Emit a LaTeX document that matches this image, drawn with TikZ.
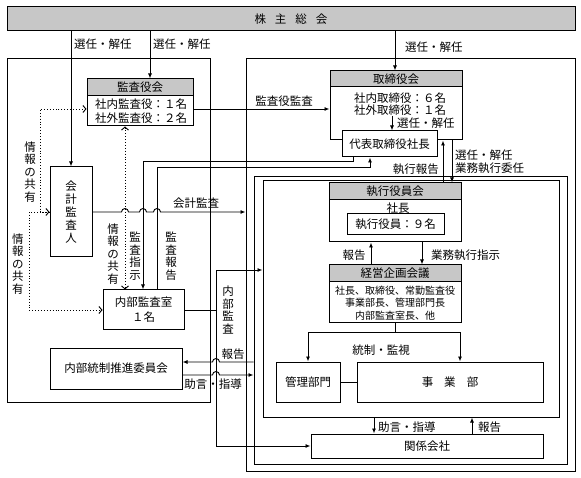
\documentclass[tikz,border=0pt]{standalone}
\usepackage{fontspec}
\setmainfont{Noto Sans CJK JP}
\usepackage{tikz}
\usetikzlibrary{arrows.meta}
\definecolor{hdgray}{gray}{0.78}
\newcommand{\vlabfont}{\fontsize{11.5}{12.5}\selectfont}
\tikzset{
  frame/.style={draw, line width=1pt, inner sep=0pt},
  box/.style={draw, line width=1pt, fill=white, inner sep=0pt, align=center},
  head/.style={box, fill=hdgray},
  lbl/.style={inner sep=0pt, align=center},
  vlb/.style={lbl, font=\vlabfont},
  line/.style={line width=0.9pt},
  arr/.style={line width=0.9pt, -{Latex[length=5pt,width=4pt]}},
  info/.style={dotted, line width=0.9pt, {Straight Barb[length=3pt,width=7pt]}-{Straight Barb[length=3pt,width=7pt]}},
  infoend/.style={dotted, line width=0.9pt, -{Straight Barb[length=3pt,width=7pt]}},
}

\begin{document}
\begin{tikzpicture}[x=1pt, y=-1pt, font=\fontsize{11.5}{13}\selectfont]
\useasboundingbox (0,0) rectangle (581,478);

% frames
\node[frame, minimum width=203, minimum height=343] (lft) at (108.5,230.5) {};
\node[frame, minimum width=329, minimum height=412] (rgt) at (410.5,265) {};
\node[frame, minimum width=313, minimum height=287] (mid) at (410.5,320.5) {};
\node[frame, minimum width=296, minimum height=236] (exe) at (411,299) {};

% boxes
\node[head, minimum width=568, minimum height=24] (gm) at (291,19) {株\hspace{9pt}主\hspace{9pt}総\hspace{9pt}会};

\node[box, minimum width=106, minimum height=47] (ka) at (140,102.5) {};
\node[head, minimum width=106, minimum height=17, anchor=north] (kah) at (ka.north) {監査役会};
\node[lbl, font=\fontsize{11.5}{14}\selectfont] (kat) at (141,111) {社内監査役：１名\\社外監査役：２名};

\node[box, minimum width=132, minimum height=69] (tb) at (396,105.5) {};
\node[head, minimum width=132, minimum height=16, anchor=north] (tbh) at (tb.north) {取締役会};
\node[lbl, font=\fontsize{11.5}{12}\selectfont] (tbt) at (400,104) {社内取締役：６名\\社外取締役：１名};
\node[lbl, anchor=west] (tbs) at (397,123) {選任・解任};
\coordinate (tsel) at (392,116);
\node[box, minimum width=95, minimum height=26] (pr) at (389.5,144) {代表取締役社長};

\node[box, minimum width=42, minimum height=90, font=\fontsize{11.5}{13}\selectfont] (ca) at (71,212) {会\\計\\監\\査\\人};
\node[box, minimum width=81, minimum height=40, font=\fontsize{11.5}{15}\selectfont] (ia) at (143.5,310) {内部監査室\\１名};
\node[box, minimum width=132, minimum height=41] (ic) at (116,368.5) {内部統制推進委員会};

\node[box, minimum width=132, minimum height=59] (eo) at (395,212.5) {};
\node[head, minimum width=132, minimum height=17, anchor=north] (eoh) at (eo.north) {執行役員会};
\node[lbl] (eot) at (398,208) {社長};
\node[box, minimum width=97, minimum height=21] (eon) at (395.5,224.5) {執行役員：９名};

\node[box, minimum width=132, minimum height=58] (mp) at (395,294) {};
\node[head, minimum width=132, minimum height=17, anchor=north] (mph) at (mp.north) {経営企画会議};
\node[lbl, font=\fontsize{10}{12.5}\selectfont] (mpt) at (395,303) {社長、取締役、常勤監査役\\事業部長、管理部門長\\内部監査室長、他};

\node[box, minimum width=64, minimum height=40] (ad) at (308,382) {管理部門};
\node[box, minimum width=186, minimum height=40] (bd) at (450,382) {事\hspace{11pt}業\hspace{11pt}部};
\node[box, minimum width=232, minimum height=24] (af) at (427,446) {関係会社};

% connectors
\draw[arr] (gm.south -| ca.north) -- (ca.north);
\draw[arr] (gm.south -| 150,0) -- (kah.north -| 150,0);
\draw[arr] (gm.south -| 395,0) -- (tbh.north -| 395,0);
\draw[arr] (ka.east |- 0,109) -- (tb.west |- 0,109);
\draw[arr] (tsel) -- (tsel |- pr.north);

\draw[arr] (pr.south -| 353,0) -- (353,161) -| (ia.north -| 143,0);
\draw[arr] (ia.north -| 157,0) |- (370,167) -- (pr.south -| 370,0);

\draw[arr] (ca.east) -- (121.5,212) arc[start angle=180, end angle=0, radius=3.5pt]
  -- (139.5,212) arc[start angle=180, end angle=0, radius=3.5pt]
  -- (153.5,212) arc[start angle=180, end angle=0, radius=3.5pt]
  -- (rgt.west |- ca.east);

\draw[info] (ka.west |- 0,109) -| (40,212) -- (ca.west);
\draw[infoend] (ca.west) -- (29,212) |- (ia.west);
\draw[info] (ka.south -| 125,0) -- (ia.north -| 125,0);

\coordinate (ij) at (216,310);
\draw[line] (ia.east) -- (ij);
\draw[arr] (ij) |- (exe.west |- 0,270);
\draw[arr] (ij) |- (af.west);

\draw[arr] (mid.west |- 0,362) -- (219.5,362) arc[start angle=0, end angle=180, radius=3.5pt] -- (ic.east |- 0,362);
\draw[arr] (ic.east |- 0,375) -- (212.5,375) arc[start angle=180, end angle=0, radius=3.5pt] -- (mid.west |- 0,375);

\draw[arr] (eo.north -| 443,0) -- (tb.south -| 443,0);
\draw[arr] (tb.south -| 452,0) -- (eo.north -| 452,0);

\draw[arr] (mp.north -| 371,0) -- (eo.south -| 371,0);
\draw[arr] (eo.south -| 422,0) -- (mp.north -| 422,0);

\coordinate (cm) at (395,332);
\draw[line] (mp.south) -- (cm);
\draw[arr] (cm) -| (ad.north);
\draw[arr] (cm) -| (bd.north -| 460,0);
\draw[line] (ad) -- (bd);

\draw[arr] (exe.south -| 374,0) -- (af.north -| 374,0);
\draw[arr] (af.north -| 472,0) -- (exe.south -| 472,0);

% labels
\node[lbl, anchor=west] (l1) at (74,44) {選任・解任};
\node[lbl, anchor=west] (l2) at (153,44) {選任・解任};
\node[lbl, anchor=west] (l3) at (405,47) {選任・解任};
\node[lbl] (l4) at (284,101) {監査役監査};
\node[lbl] (l5) at (196,203) {会計監査};
\node[vlb] (l6) at (30,172) {情\\報\\の\\共\\有};
\node[vlb] (l7) at (18,264) {情\\報\\の\\共\\有};
\node[vlb] (l8) at (113,254) {情\\報\\の\\共\\有};
\node[vlb] (l9) at (135,256) {監\\査\\指\\示};
\node[vlb] (l10) at (171,256) {監\\査\\報\\告};
\node[vlb] (l11) at (228,310) {内\\部\\監\\査};
\node[lbl] (l12) at (233,354) {報告};
\node[lbl] (l13) at (213,384) {助言・指導};
\node[lbl, anchor=east] (l14) at (439,169) {執行報告};
\node[lbl, anchor=west, align=left] (l15) at (455,161.5) {選任・解任\\業務執行委任};
\node[lbl] (l16) at (354,255) {報告};
\node[lbl, anchor=west] (l17) at (431,255) {業務執行指示};
\node[lbl] (l18) at (381,350) {統制・監視};
\node[lbl, anchor=west] (l19) at (378,427) {助言・指導};
\node[lbl, anchor=west] (l20) at (478,427) {報告};

\end{tikzpicture}
\end{document}
